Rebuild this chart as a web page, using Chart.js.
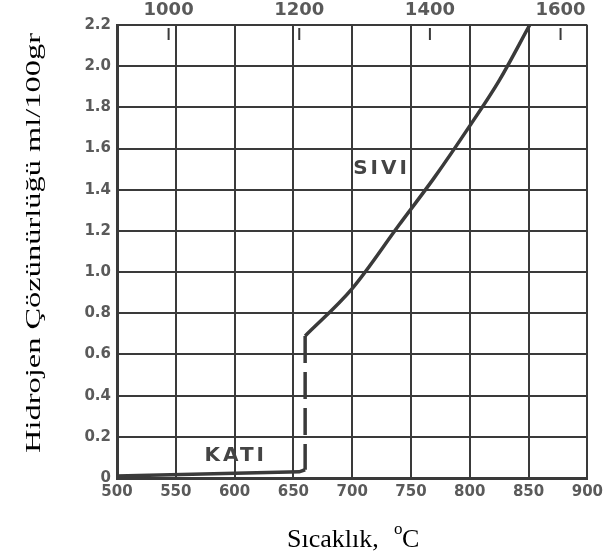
<!DOCTYPE html>
<html lang="tr">
<head>
<meta charset="utf-8">
<title>Hidrojen Çözünürlüğü</title>
<script src="https://cdn.jsdelivr.net/npm/chart.js@4/dist/chart.umd.min.js"></script>
<style>
  html, body { margin: 0; padding: 0; background: #fff; }
  #kutu { width: 608px; height: 559px; position: relative; }
</style>
</head>
<body>
<div id="kutu"><canvas id="grafik"></canvas></div>
<script>
// Katı bölge (erime noktasına kadar)
const katiSicaklik = [500, 655, 660];
const katiCozunurluk = [0.01, 0.03, 0.04];

// Erime noktasındaki sıçrama (kesikli)
const gecisSicaklik = [660, 660];
const gecisCozunurluk = [0.69, 0.04];

// Sıvı bölge
const siviSicaklik = [660, 700, 740, 770, 800, 825, 851];
const siviCozunurluk = [0.69, 0.92, 1.23, 1.46, 1.71, 1.93, 2.2];

// Eksen değerleri
const yTicks = [0, 0.2, 0.4, 0.6, 0.8, 1.0, 1.2, 1.4, 1.6, 1.8, 2.0, 2.2];
const celsiusTicks = [500, 550, 600, 650, 700, 750, 800, 850, 900];
const fahrenheitTicks = [1000, 1200, 1400, 1600];

// Bölge yazıları
const bolgeMetin = ['SIVI', 'KATI'];
const bolgeSicaklik = [725, 601];
const bolgeDeger = [1.5, 0.11];

const cizgiRengi = '#3a3a3a';
const yaziRengi = '#5a5a5a';

function noktalar(xs, ys) {
  return xs.map((x, i) => ({ x: x, y: ys[i] }));
}

const yazilar = {
  id: 'yazilar',
  afterDraw(chart) {
    const ctx = chart.ctx;
    const alan = chart.chartArea;
    const x = chart.scales.x;
    const y = chart.scales.y;
    const x2 = chart.scales.x2;

    ctx.save();

    // üst eksendeki içe dönük çentikler
    ctx.strokeStyle = cizgiRengi;
    ctx.lineWidth = 2;
    fahrenheitTicks.forEach(v => {
      const px = x2.getPixelForValue(v);
      ctx.beginPath();
      ctx.moveTo(px, alan.top + 3);
      ctx.lineTo(px, alan.top + 15);
      ctx.stroke();
    });

    // SIVI / KATI
    ctx.font = 'bold 20px "DejaVu Sans"';
    ctx.letterSpacing = '3px';
    ctx.fillStyle = '#444';
    ctx.textAlign = 'center';
    ctx.textBaseline = 'middle';
    bolgeMetin.forEach((m, i) => {
      ctx.fillText(m, x.getPixelForValue(bolgeSicaklik[i]), y.getPixelForValue(bolgeDeger[i]));
    });
    ctx.letterSpacing = '0px';

    // y ekseni başlığı (dikey, uzatılmış)
    const yBaslik = 'Hidrojen Çözünürlüğü ml/100gr';
    ctx.font = '22px "Liberation Serif"';
    ctx.fillStyle = '#000';
    const w = ctx.measureText(yBaslik).width;
    ctx.save();
    ctx.translate(34, 243);
    ctx.rotate(-Math.PI / 2);
    ctx.scale(420 / w, 1);
    ctx.fillText(yBaslik, 0, 0);
    ctx.restore();

    // x ekseni başlığı
    ctx.textAlign = 'left';
    ctx.textBaseline = 'alphabetic';
    ctx.font = '26px "Liberation Serif"';
    ctx.fillText('Sıcaklık,', 287, 547);
    ctx.font = '17px "Liberation Serif"';
    ctx.fillText('o', 394, 534);
    ctx.font = '26px "Liberation Serif"';
    ctx.fillText('C', 402, 547);

    ctx.restore();
  }
};

document.addEventListener('DOMContentLoaded', function() {
  const ctx = document.getElementById('grafik').getContext('2d');

  const cizgi = {
    borderColor: cizgiRengi,
    borderWidth: 3.5,
    pointRadius: 0,
    fill: false,
    showLine: true
  };

  const etiketFontu = { family: 'DejaVu Sans', weight: 'bold', size: 15 };

  new Chart(ctx, {
    type: 'scatter',
    data: {
      datasets: [
        Object.assign({ label: 'Katı', data: noktalar(katiSicaklik, katiCozunurluk) }, cizgi),
        Object.assign({ label: 'Geçiş', data: noktalar(gecisSicaklik, gecisCozunurluk), borderDash: [27, 9] }, cizgi),
        Object.assign({ label: 'Sıvı', data: noktalar(siviSicaklik, siviCozunurluk), cubicInterpolationMode: 'monotone' }, cizgi)
      ]
    },
    options: {
      responsive: true,
      maintainAspectRatio: false,
      animation: false,
      layout: { padding: { left: 0, right: 19, top: 0, bottom: 0 } },
      plugins: {
        legend: { display: false },
        tooltip: { enabled: false }
      },
      scales: {
        x: {
          type: 'linear',
          position: 'bottom',
          min: 500,
          max: 900,
          afterBuildTicks: s => { s.ticks = celsiusTicks.map(v => ({ value: v })); },
          afterFit: s => { s.height = 81; },
          grid: { color: cizgiRengi, lineWidth: 2, drawTicks: false },
          border: { color: cizgiRengi, width: 3 },
          ticks: {
            padding: 5,
            color: yaziRengi,
            font: etiketFontu,
            callback: v => String(v)
          }
        },
        x2: {
          type: 'linear',
          position: 'top',
          min: 921,
          max: 1641,
          afterBuildTicks: s => { s.ticks = fahrenheitTicks.map(v => ({ value: v })); },
          afterFit: s => { s.height = 25; },
          grid: { display: false, drawTicks: false },
          border: { display: false },
          ticks: {
            padding: 4,
            color: yaziRengi,
            font: { family: 'DejaVu Sans', weight: 'bold', size: 18 },
            callback: v => String(v)
          }
        },
        y: {
          min: 0,
          max: 2.2,
          afterBuildTicks: s => { s.ticks = yTicks.map(v => ({ value: v })); },
          afterFit: s => { s.width = 117; },
          grid: { color: cizgiRengi, lineWidth: 2, drawTicks: false },
          border: { color: cizgiRengi, width: 3 },
          ticks: {
            padding: 6,
            color: yaziRengi,
            font: etiketFontu,
            callback: v => v === 0 ? '0' : v.toFixed(1)
          }
        }
      }
    },
    plugins: [yazilar]
  });
});
</script>
</body>
</html>
